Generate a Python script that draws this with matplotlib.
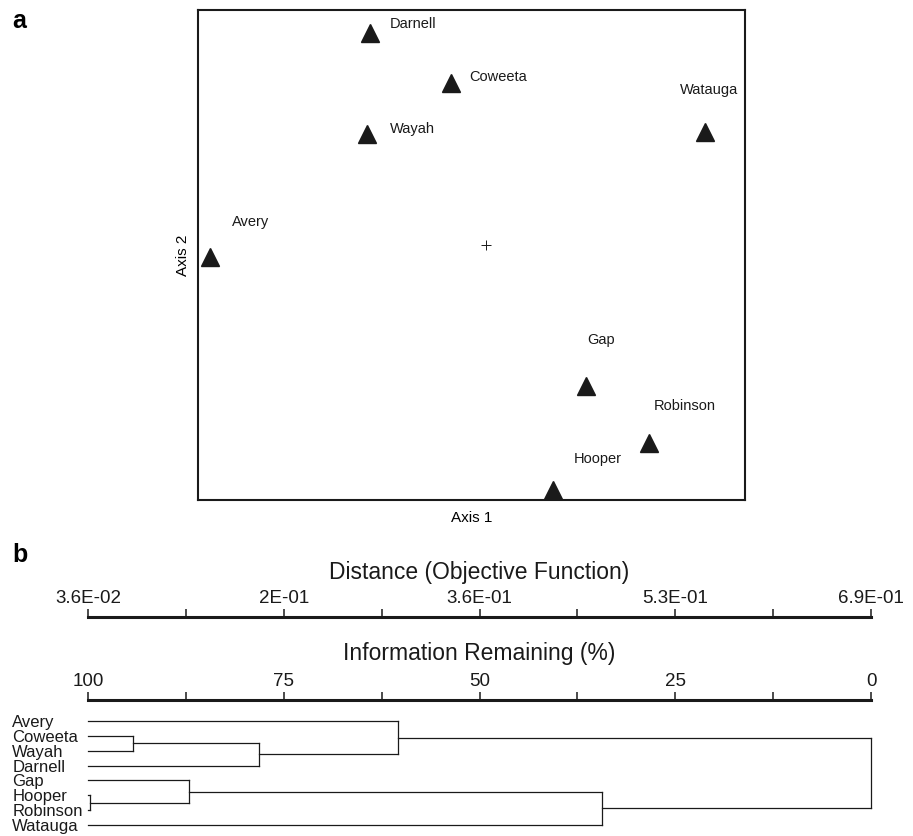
import matplotlib

matplotlib.use("Agg")

import matplotlib.pyplot as plt
import numpy as np
from matplotlib.ticker import FixedLocator


plt.rcParams["font.family"] = ["Liberation Sans", "DejaVu Sans"]

# --- panel a: ordination scores (arbitrary units, centroid at 0, 0) ---
SITES = ["Darnell", "Coweeta", "Wayah", "Watauga", "Avery", "Gap", "Robinson", "Hooper"]
AXIS1 = [-1.16, -0.35, -1.19, 2.19, -2.76, 1.00, 1.63, 0.67]
AXIS2 = [2.12, 1.62, 1.11, 1.13, -0.12, -1.41, -1.98, -2.45]
CENTROID_X = [0.0]
CENTROID_Y = [0.0]

# --- panel b: cluster dendrogram ---
LEAF_ORDER = ["Avery", "Coweeta", "Wayah", "Darnell", "Gap", "Hooper", "Robinson", "Watauga"]
# (cluster, cluster, information remaining % at fusion)
MERGES = [
    ("Coweeta", "Wayah", 94.3),
    ("Hooper", "Robinson", 99.8),
    ("Gap", "Hooper+Robinson", 87.1),
    ("Coweeta+Wayah", "Darnell", 78.2),
    ("Avery", "Coweeta+Wayah+Darnell", 60.4),
    ("Gap+Hooper+Robinson", "Watauga", 34.3),
    ("Avery+Coweeta+Wayah+Darnell", "Gap+Hooper+Robinson+Watauga", 0.0),
]
DIST_MIN = 0.036
DIST_MAX = 0.69
DIST_TICKLABELS = ["3.6E-02", "2E-01", "3.6E-01", "5.3E-01", "6.9E-01"]
INFO_TICKS = [100, 75, 50, 25, 0]

# label placement in pixels relative to each triangle (style only)
LABEL_STYLE = {
    "Darnell": ((20, 9), "left"),
    "Coweeta": ((18, 6), "left"),
    "Wayah": ((23, 5), "left"),
    "Watauga": ((4, 42), "center"),
    "Avery": ((22, 35), "left"),
    "Gap": ((15, 46), "center"),
    "Robinson": ((36, 37), "center"),
    "Hooper": ((45, 31), "center"),
}

W, H = 913, 836
INK = "#1a1a1a"


def px_rect(left, top, right, bottom):
    return [left / W, 1 - bottom / H, (right - left) / W, (bottom - top) / H]


def plot_ordination(fig):
    ax = fig.add_axes(px_rect(198, 10, 745, 500))
    ax.plot(AXIS1, AXIS2, linestyle="none", marker="^", markersize=13,
            color=INK, clip_on=False)
    ax.plot(CENTROID_X, CENTROID_Y, linestyle="none", marker="+",
            markersize=7, markeredgewidth=0.7, color=INK)

    for name, x, y in zip(SITES, AXIS1, AXIS2):
        offset, ha = LABEL_STYLE[name]
        ax.annotate(name, xy=(x, y), xytext=offset, textcoords="offset pixels",
                    ha=ha, va="center", fontsize=10.5, color=INK)

    ax.set_xlim(-2.88, 2.59)
    ax.set_ylim(-2.55, 2.35)
    ax.set_xticks([])
    ax.set_yticks([])
    for spine in ax.spines.values():
        spine.set_linewidth(1.5)
        spine.set_color(INK)

    ax.set_xlabel("Axis 1", fontsize=11, labelpad=8)
    ax.set_ylabel("Axis 2", fontsize=11, labelpad=6)


def scale_bar(fig, line_y, lim, major, labels, title, title_offset):
    ax = fig.add_axes(px_rect(88, line_y - 8, 871, line_y))
    ax.set_xlim(*lim)
    ax.set_ylim(0, 1)
    ax.set_yticks([])
    for side in ["top", "left", "right"]:
        ax.spines[side].set_visible(False)
    ax.spines["bottom"].set_linewidth(2.2)
    ax.spines["bottom"].set_color(INK)
    ax.patch.set_visible(False)

    major = np.asarray(major, dtype=float)
    ax.xaxis.set_major_locator(FixedLocator(major))
    ax.xaxis.set_minor_locator(FixedLocator((major[:-1] + major[1:]) / 2))
    ax.set_xticklabels(labels)
    ax.tick_params(axis="x", which="both", direction="in", bottom=True, top=False,
                   length=5.8, width=1.1, color=INK,
                   labelbottom=False, labeltop=True, pad=1.5,
                   labelsize=13.5, labelcolor=INK)

    ax.annotate(title, xy=(0.5, 1), xycoords="axes fraction",
                xytext=(0, title_offset), textcoords="offset pixels",
                ha="center", va="baseline", fontsize=16.5, color=INK)


def plot_dendrogram(fig):
    ax = fig.add_axes(px_rect(88, 712, 871, 834))
    ax.set_xlim(100, 0)
    ax.set_ylim(7.6, -0.6)
    for spine in ax.spines.values():
        spine.set_visible(False)
    ax.set_xticks([])
    ax.patch.set_visible(False)

    pos = {name: (float(i), 100.0) for i, name in enumerate(LEAF_ORDER)}
    for a, b, height in MERGES:
        ya, xa = pos[a]
        yb, xb = pos[b]
        style = dict(color=INK, linewidth=0.9, clip_on=False)
        ax.plot([xa, height], [ya, ya], **style)
        ax.plot([xb, height], [yb, yb], **style)
        ax.plot([height, height], [ya, yb], **style)
        pos[a + "+" + b] = ((ya + yb) / 2, height)

    ax.set_yticks(range(len(LEAF_ORDER)))
    ax.set_yticklabels(LEAF_ORDER)
    ax.tick_params(axis="y", length=0, pad=54.5, labelsize=12, labelcolor=INK)
    for label in ax.get_yticklabels():
        label.set_horizontalalignment("left")


def main() -> None:
    fig = plt.figure(figsize=(W / 100, H / 100), dpi=100)

    plot_ordination(fig)

    dist_ticks = np.linspace(DIST_MIN, DIST_MAX, len(DIST_TICKLABELS))
    scale_bar(fig, 617, (DIST_MIN, DIST_MAX), dist_ticks, DIST_TICKLABELS,
              "Distance (Objective Function)", 30)
    scale_bar(fig, 700, (100, 0), INFO_TICKS, [str(t) for t in INFO_TICKS],
              "Information Remaining (%)", 32)

    plot_dendrogram(fig)

    fig.text(12 / W, 1 - 28 / H, "a", fontsize=18, fontweight="bold", va="baseline")
    fig.text(12 / W, 1 - 562 / H, "b", fontsize=18, fontweight="bold", va="baseline")

    fig.savefig("out.png", dpi=100)
    plt.close(fig)


if __name__ == "__main__":
    main()
